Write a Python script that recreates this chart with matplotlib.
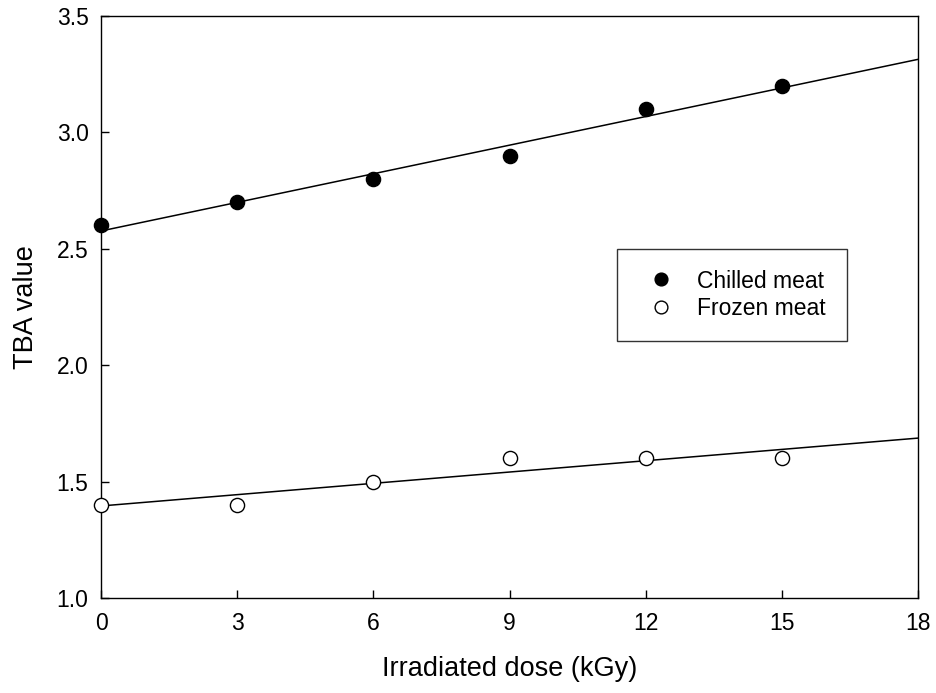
import numpy as np
import matplotlib
matplotlib.use('Agg')
import matplotlib.pyplot as plt

plt.rcParams['font.family'] = ['Liberation Sans', 'DejaVu Sans']

dose = [0, 3, 6, 9, 12, 15]
chilled = [2.6, 2.7, 2.8, 2.9, 3.1, 3.2]
frozen = [1.4, 1.4, 1.5, 1.6, 1.6, 1.6]
x_ticks = [0, 3, 6, 9, 12, 15, 18]
y_ticks = [1.0, 1.5, 2.0, 2.5, 3.0, 3.5]

fig = plt.figure(figsize=(9.37, 6.93), dpi=100)
ax = fig.add_axes([0.1078, 0.1371, 0.872, 0.84])

# linear regression lines across the full x range
xfit = np.array([0, 18])
for y in (chilled, frozen):
    k, b = np.polyfit(dose, y, 1)
    ax.plot(xfit, k * xfit + b, color='black', lw=1.1, zorder=2)

ax.plot(dose, chilled, 'o', ms=10.2, mfc='black', mec='black', mew=1.0,
        ls='none', label='Chilled meat', zorder=3, clip_on=False)
ax.plot(dose, frozen, 'o', ms=10.2, mfc='white', mec='black', mew=1.0,
        ls='none', label='Frozen meat', zorder=3, clip_on=False)

ax.set_xlim(0, 18)
ax.set_ylim(1.0, 3.5)
ax.set_xticks(x_ticks)
ax.set_yticks(y_ticks)
ax.set_yticklabels([f'{v:.1f}' for v in y_ticks])
ax.tick_params(direction='in', length=6, width=1, labelsize=16.5, pad=9)
ax.tick_params(axis='x', pad=10)
for s in ax.spines.values():
    s.set_linewidth(1)

ax.set_xlabel('Irradiated dose (kGy)', fontsize=19.5, labelpad=15)
ax.set_ylabel('TBA value', fontsize=19.5, labelpad=13)

leg = ax.legend(loc='upper left', bbox_to_anchor=(0.6316, 0.5997), frameon=True,
                fancybox=False, edgecolor='black', fontsize=16.5, markerscale=0.9,
                handlelength=2.0, handletextpad=0.6, labelspacing=0.2,
                borderpad=0.9, borderaxespad=0)
leg.get_frame().set_linewidth(1)

fig.savefig('out.png', dpi=100)
